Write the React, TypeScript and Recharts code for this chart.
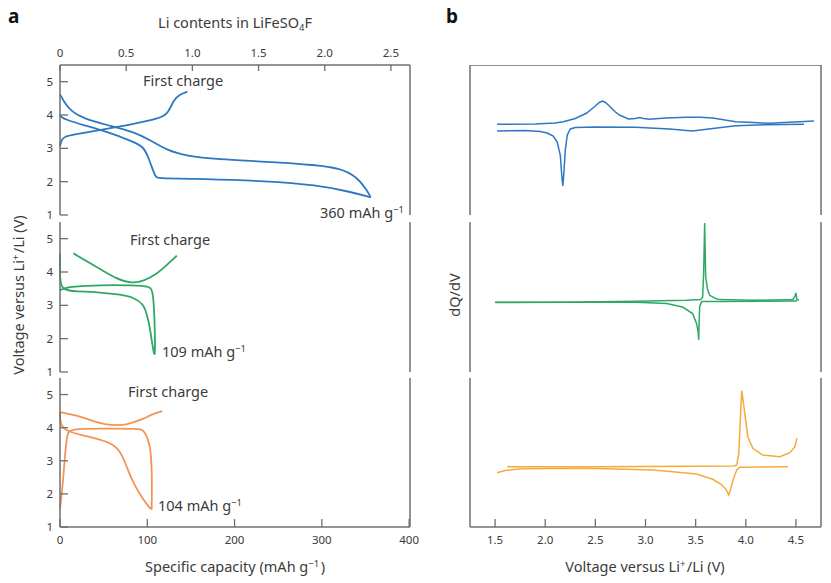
import React from 'react'
import { ComposedChart, Line, XAxis, YAxis, ReferenceLine, ReferenceArea } from 'recharts'

type Pt = [number, number]

// ---- panel a: specific capacity (mAh/g) vs voltage (V) ----
const capTicks = [0, 100, 200, 300, 400]
const liTicks = [0, 0.5, 1, 1.5, 2, 2.5]
const voltTicks = [1, 2, 3, 4, 5]
const capPerLi = 151.66 // mAh/g for one Li per formula unit

const blueFirstCharge: Pt[] = [[0, 3.05], [1.5, 3.25], [5, 3.35], [13.4, 3.4], [45.8, 3.55], [84, 3.73], [114.6, 3.9], [124, 4.05], [130, 4.45], [137.5, 4.62], [146, 4.7]]
const blueDischarge: Pt[] = [[0, 4.62], [5.7, 4.35], [13.4, 4.1], [26.7, 3.9], [53.5, 3.7], [84, 3.5], [103, 3.25], [122, 2.95], [145, 2.77], [180, 2.67], [237, 2.6], [294, 2.5], [321, 2.4], [340, 2.15], [351.6, 1.75], [356, 1.53]]
const blueCharge: Pt[] = [[356, 1.53], [332, 1.7], [294, 1.9], [237, 2.02], [160.5, 2.08], [114.6, 2.1], [110, 2.12], [107, 2.3], [101, 2.75], [95.5, 3.05], [84, 3.2], [53.5, 3.5], [26.7, 3.7], [7.6, 3.85], [0.7, 3.95], [0, 4.0]]

const greenFirstCharge: Pt[] = [[15.3, 4.56], [30, 4.33], [45.9, 4.09], [65, 3.79], [82.2, 3.66], [95.6, 3.72], [110.9, 3.94], [122, 4.2], [133.8, 4.49]]
const greenDischarge: Pt[] = [[0, 4.55], [0, 4.0], [0, 3.44], [20, 3.42], [45.9, 3.39], [70, 3.32], [84, 3.24], [95.6, 3.04], [99.4, 2.74], [103, 2.34], [105, 1.94], [107.8, 1.54]]
const greenCharge: Pt[] = [[108.5, 1.52], [109, 1.84], [108.3, 2.6], [107, 3.24], [105, 3.52], [99.4, 3.59], [60, 3.61], [30, 3.59], [7.6, 3.55], [0, 3.45]]

const orangeFirstCharge: Pt[] = [[0, 4.47], [26.8, 4.32], [40, 4.17], [53.5, 4.09], [65, 4.07], [76.5, 4.09], [85, 4.17], [95.6, 4.27], [105, 4.4], [117.3, 4.5]]
const orangeDischarge: Pt[] = [[0, 4.47], [0, 3.92], [26.8, 3.77], [57.3, 3.57], [68.8, 3.32], [76.5, 2.82], [84, 2.32], [95.5, 1.82], [104, 1.54]]
const orangeCharge: Pt[] = [[105, 1.52], [105.5, 2.5], [104, 3.5], [96, 3.93], [91.7, 3.97], [45.9, 3.97], [12, 3.96], [8.5, 3.85], [6, 3.3], [3, 2.2], [0, 1.55]]

// ---- panel b: voltage (V) vs dQ/dV (a.u.) ----
const bVoltTicks = [1.5, 2, 2.5, 3, 3.5, 4, 4.5]
const shadeRange = [1.93, 2.78]
const greenMarker = 3.53
const orangeMarker = 3.91

const blueDqCharge: Pt[] = [[1.52, 0.7], [1.9, 1], [2.1, 2], [2.18, 3.3], [2.3, 6.5], [2.41, 11.7], [2.5, 19], [2.54, 22.5], [2.57, 24], [2.6, 22.5], [2.63, 20], [2.7, 13], [2.74, 10], [2.83, 6], [2.9, 6.5], [2.94, 7.5], [2.98, 6.5], [3.04, 5.7], [3.2, 7], [3.41, 7.7], [3.55, 7.7], [3.67, 7], [3.9, 3.3], [4.24, 1.7], [4.68, 4]]
const blueDqDischarge: Pt[] = [[4.58, 0.7], [4.2, 0.3], [3.9, -0.7], [3.67, -3.5], [3.47, -6], [3.24, -4], [2.9, -2.3], [2.5, -2], [2.3, -2.5], [2.25, -4], [2.22, -10], [2.2, -25], [2.185, -50], [2.175, -61], [2.165, -50], [2.15, -30], [2.12, -17], [2.08, -11], [2.02, -8], [1.95, -6.5], [1.8, -5.5], [1.52, -6]]

const greenDqCharge: Pt[] = [[1.5, -0.6], [2.2, -0.3], [2.91, 0.7], [3.41, 1.7], [3.55, 2.4], [3.57, 5], [3.58, 30], [3.59, 79], [3.6, 25], [3.62, 12], [3.64, 6.7], [3.7, 3.5], [3.74, 2.4], [4.07, 1.7], [4.47, 2.4], [4.49, 6], [4.5, 9], [4.51, 2.4], [4.53, 1.7]]
const greenDqDischarge: Pt[] = [[4.51, 1], [3.74, 0.4], [3.56, 0.5], [3.54, -5], [3.535, -20], [3.53, -38], [3.525, -30], [3.51, -21.6], [3.47, -11.6], [3.37, -5], [3.21, -1.6], [2.91, -0.3], [1.5, -0.3]]

const orangeDqCharge: Pt[] = [[1.62, 0.3], [2.5, 0.3], [3.88, 1], [3.91, 2], [3.93, 13.7], [3.95, 57], [3.96, 76.3], [3.975, 65], [3.99, 53.7], [4.02, 30.3], [4.07, 18.7], [4.17, 12], [4.34, 10.3], [4.44, 14.3], [4.49, 20.3], [4.51, 28.7]]
const orangeDqDischarge: Pt[] = [[4.42, 0.3], [3.94, -0.3], [3.91, -3], [3.89, -8], [3.87, -14], [3.85, -22], [3.83, -28], [3.8, -22], [3.75, -17], [3.67, -12.3], [3.51, -7], [3.08, -3], [2.41, -1.3], [1.75, -1.7], [1.6, -3.5], [1.52, -5.7]]

const FONT = '"Noto Sans", "Open Sans", Arial, sans-serif'
const AXIS = '#6f6f6f'
const TXT = '#3b3b3b'
const BLUE = '#2e77c2'
const GREEN = '#2fa866'
const ORANGE_A = '#f39457'
const ORANGE_B = '#f6aa3c'
const FS = 14.5

const ROWS = [
  { top: 65, h: 150 },
  { top: 222, h: 150 },
  { top: 378, h: 149 },
]

const toData = (pts: Pt[]) => pts.map(([x, y]) => ({ x, y }))
const axisLine = { stroke: AXIS, strokeWidth: 1.5 }
const tickLine = { stroke: AXIS, strokeWidth: 1.3 }
const tickStyle = { fill: TXT, fontSize: 11.5, fontFamily: FONT }

const liLabel = (v: number) => {
  const li = Math.round((v / capPerLi) * 2) / 2
  return li === 0 ? '0' : li.toFixed(1)
}

const ASub = ({ row, series, color, first, last }: { row: number; series: Pt[][]; color: string; first?: boolean; last?: boolean }) => {
  const { top, h } = ROWS[row]
  const th = first ? 30 : 0
  const bh = last ? 30 : 0
  const extra = last ? 0 : 10
  return (
    <div style={{ position: 'absolute', left: 20, top: top - th }}>
      <ComposedChart width={410} height={h + th + bh + extra} margin={{ top: 0, right: 20, bottom: extra, left: 0 }}>
        {first ? (
          // top axis: Li content, placed on the capacity scale
          <XAxis xAxisId="cap" dataKey="x" type="number" orientation="top" domain={[0, 401]}
            ticks={liTicks.map(l => l * capPerLi)} interval={0}
            height={30} tickSize={-6} tickMargin={14} axisLine={axisLine} tickLine={tickLine} tick={tickStyle}
            tickFormatter={liLabel} />
        ) : (
          <XAxis xAxisId="cap" dataKey="x" type="number" domain={[0, 401]} ticks={capTicks} interval={0}
            hide={!last} height={30} tickSize={-8} tickMargin={17} axisLine={axisLine} tickLine={tickLine} tick={tickStyle} />
        )}
        <YAxis type="number" domain={[1, 5.5]} ticks={voltTicks} interval={0} width={40}
          tickSize={-8} tickMargin={15} axisLine={axisLine} tickLine={tickLine} tick={tickStyle} />
        <ReferenceLine xAxisId="cap" x={401} stroke={AXIS} strokeWidth={1.5} />
        {series.map((s, i) => (
          <Line key={i} xAxisId="cap" data={toData(s)} dataKey="y" type="basis" stroke={color}
            strokeWidth={1.8} dot={false} activeDot={false} isAnimationActive={false} />
        ))}
      </ComposedChart>
    </div>
  )
}

const BSub = ({ row, series, color, domain, first, last }: { row: number; series: Pt[][]; color: string; domain: [number, number]; first?: boolean; last?: boolean }) => {
  const { top, h } = ROWS[row]
  const bh = last ? 30 : 0
  return (
    <div style={{ position: 'absolute', left: 430, top }}>
      <ComposedChart width={401} height={h + bh} margin={{ top: 0, right: 10, bottom: 0, left: 0 }}>
        <XAxis dataKey="x" type="number" domain={[1.25, 4.75]} ticks={bVoltTicks} interval={0}
          hide={!last} height={30} tickSize={-8} tickMargin={17} axisLine={axisLine} tickLine={tickLine} tick={tickStyle}
          tickFormatter={(v: number) => v.toFixed(1)} />
        <YAxis type="number" domain={domain} width={40} tick={false} tickLine={false} axisLine={axisLine} />
        {first && <ReferenceLine y={domain[1]} stroke={AXIS} strokeWidth={1.5} />}
        <ReferenceLine x={4.75} stroke={AXIS} strokeWidth={1.5} />
        {series.map((s, i) => (
          <Line key={i} data={toData(s)} dataKey="y" type="linear" stroke={color}
            strokeWidth={1.5} dot={false} activeDot={false} isAnimationActive={false} />
        ))}
      </ComposedChart>
    </div>
  )
}

const BBackground = () => (
  <div style={{ position: 'absolute', left: 470, top: 65 }}>
    <ComposedChart width={351} height={462} margin={{ top: 0, right: 0, bottom: 0, left: 0 }}>
      <defs>
        <linearGradient id="bShade" x1="0" y1="0" x2="0" y2="1">
          <stop offset="0%" stopColor="#ebf2fa" />
          <stop offset="50%" stopColor="#f2f7f4" />
          <stop offset="100%" stopColor="#fcf5eb" />
        </linearGradient>
      </defs>
      <XAxis type="number" dataKey="x" domain={[1.25, 4.75]} hide />
      <YAxis type="number" domain={[0, 1]} hide />
      <ReferenceArea x1={shadeRange[0]} x2={shadeRange[1]} y1={0} y2={1} fill="url(#bShade)" fillOpacity={1} stroke="none" />
      <ReferenceLine x={greenMarker} stroke="#2ea85c" strokeWidth={2.6} strokeDasharray="2.4 2.4" />
      <ReferenceLine x={orangeMarker} stroke="#f29a1c" strokeWidth={2.6} strokeDasharray="2.4 2.4" />
    </ComposedChart>
  </div>
)

const Sup = ({ children }: { children: string }) => (
  <>
    <tspan dy={-5} fontSize={9.5}>{children}</tspan>
    <tspan dy={5}>{'\u200a'}</tspan>
  </>
)

const Overlay = () => (
  <svg width={831} height={583} style={{ position: 'absolute', left: 0, top: 0, pointerEvents: 'none' }}
    fontFamily={FONT} fill={TXT}>
    <text x={8} y={23} fontSize={19} fontWeight="bold" fill="#111">a</text>
    <text x={446} y={23} fontSize={19} fontWeight="bold" fill="#111">b</text>
    <text x={235} y={28} fontSize={FS} textAnchor="middle">
      Li contents in LiFeSO<tspan dy={3} fontSize={9.5}>4</tspan><tspan dy={-3}>F</tspan>
    </text>
    <text x={143} y={86} fontSize={FS}>First charge</text>
    <text x={130} y={245} fontSize={FS}>First charge</text>
    <text x={128} y={397} fontSize={FS}>First charge</text>
    <text x={320} y={218} fontSize={FS}>360 mAh g<Sup>−1</Sup></text>
    <text x={162} y={357} fontSize={FS}>109 mAh g<Sup>−1</Sup></text>
    <text x={158} y={511} fontSize={FS}>104 mAh g<Sup>−1</Sup></text>
    <text x={235} y={572} fontSize={FS} textAnchor="middle">Specific capacity (mAh g<Sup>−1</Sup>)</text>
    <text x={645} y={572} fontSize={FS} textAnchor="middle">Voltage versus Li<Sup>+</Sup>/Li (V)</text>
    <text transform="translate(24,295) rotate(-90)" fontSize={FS} textAnchor="middle">Voltage versus Li<Sup>+</Sup>/Li (V)</text>
    <text transform="translate(460,295) rotate(-90)" fontSize={FS} textAnchor="middle">dQ/dV</text>
  </svg>
)

export default function App() {
  return (
    <div style={{ position: 'absolute', left: 0, top: 0, width: 831, height: 583, background: '#fff', fontFamily: FONT }}>
      <BBackground />
      <ASub row={0} first series={[blueFirstCharge, blueDischarge, blueCharge]} color={BLUE} />
      <ASub row={1} series={[greenFirstCharge, greenDischarge, greenCharge]} color={GREEN} />
      <ASub row={2} last series={[orangeFirstCharge, orangeDischarge, orangeCharge]} color={ORANGE_A} />
      <BSub row={0} first domain={[-90, 60]} series={[blueDqCharge, blueDqDischarge]} color={BLUE} />
      <BSub row={1} domain={[-70, 80]} series={[greenDqCharge, greenDqDischarge]} color={GREEN} />
      <BSub row={2} last domain={[-60, 89]} series={[orangeDqCharge, orangeDqDischarge]} color={ORANGE_B} />
      <Overlay />
    </div>
  )
}
